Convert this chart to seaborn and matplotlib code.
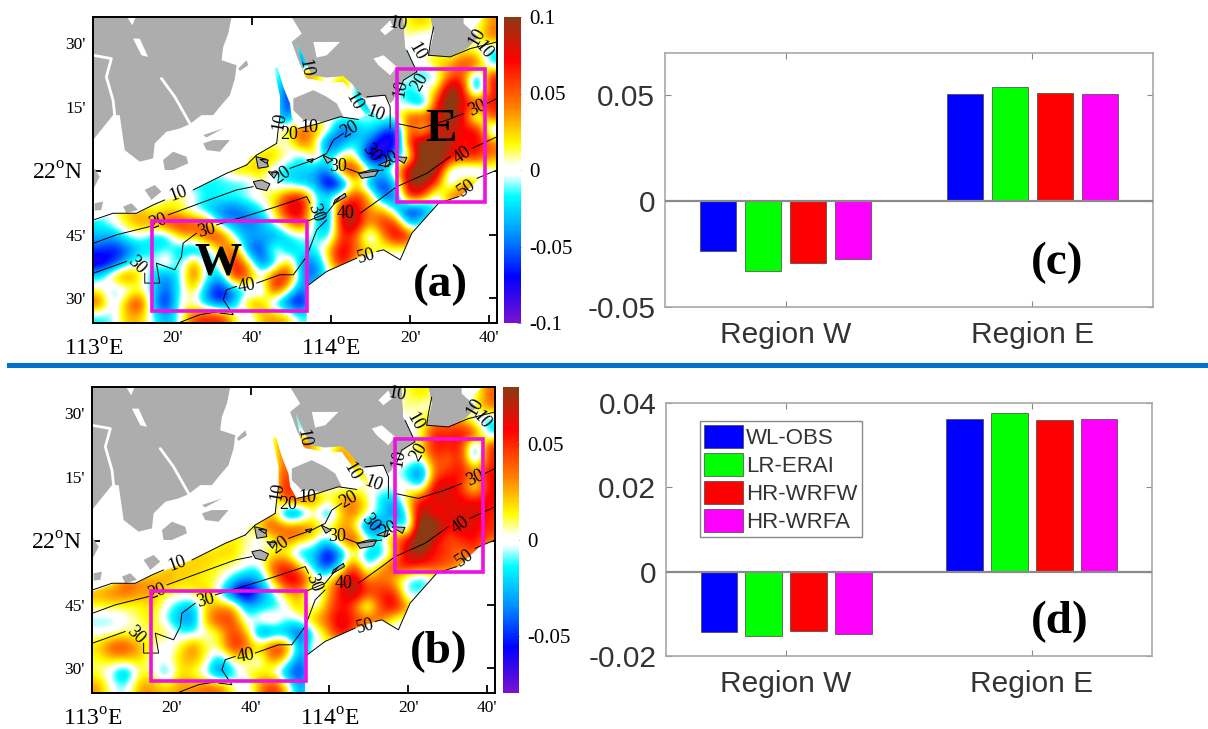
import numpy as np
import pandas as pd
import matplotlib
matplotlib.use("Agg")
import matplotlib.pyplot as plt
import seaborn as sns
from matplotlib.colors import LinearSegmentedColormap, Normalize
from matplotlib.patches import PathPatch, Polygon, Rectangle
from matplotlib.path import Path

# ---------- bar values ----------
REGIONS = ["Region W", "Region E"]
RUNS = ["WL-OBS", "LR-ERAI", "HR-WRFW", "HR-WRFA"]
RUN_COLORS = ["#0000FF", "#00FF00", "#FF0000", "#FF00FF"]
VALUES_C_W = [-0.0236, -0.0329, -0.0293, -0.0272]
VALUES_C_E = [0.0508, 0.0541, 0.0510, 0.0508]
VALUES_D_W = [-0.0143, -0.0152, -0.01415, -0.01487]
VALUES_D_E = [0.0363, 0.03756, 0.0359, 0.03614]

# ---------- map fields, hundredths (30 columns, 23 rows) ----------
FIELD_A = [
 [0,0,0,0,0,0,0,0,0,0,0,0,0,0,0,0,0,0,0,0,0,0,0,2,3,1,0,0,0,4],
 [0,0,0,0,0,0,0,0,0,0,0,0,0,0,0,0,0,0,0,0,0,0,0,1,-1,0,0,0,1,5],
 [0,0,0,0,0,0,0,0,0,0,0,0,0,0,0,-3,0,0,0,0,0,0,0,-1,0,1,0,2,0,-2],
 [0,0,0,0,0,0,0,0,0,0,0,0,0,0,-4,-6,0,0,0,0,0,0,0,0,0,3,3,6,7,-3],
 [0,0,0,0,0,0,0,0,0,0,0,0,0,0,-4,6,5,-2,3,0,0,0,0,0,-3,-1,5,6,-6,8],
 [0,0,0,0,0,0,0,0,0,0,0,0,0,0,-8,0,0,0,6,-4,0,0,0,-3,2,1,12,8,-7,7],
 [0,0,0,0,0,0,0,0,0,0,0,0,0,0,-8,0,0,0,0,0,-6,0,0,-2,-6,7,12,7,8,7],
 [0,0,0,0,0,0,0,0,0,0,0,0,0,0,-7,3,0,0,0,0,0,0,0,6,7,7,11,8,-4,6],
 [0,0,0,0,0,0,0,0,0,0,0,0,0,0,3,5,4,1,-7,-4,-2,-5,-8,7,-1,8,9,7,9,-3],
 [0,0,0,0,0,0,0,0,0,0,0,0,0,1,-1,6,2,-8,-4,-1,-5,-9,-8,7,12,11,9,6,8,5],
 [0,0,0,0,0,0,0,0,0,0,0,0,3,3,1,-3,3,-3,2,1,-10,-8,-3,-1,13,13,8,7,7,4],
 [0,0,0,0,0,0,0,0,0,0,3,3,3,-1,-3,-2,-4,-5,7,8,1,-3,3,10,13,10,-1,-3,-2,0],
 [0,0,0,0,0,0,-1,-2,-2,-2,-2,-2,1,-1,-2,-4,-3,-10,-8,3,-5,-7,-3,10,10,6,-3,5,3,0],
 [0,0,0,0,0,1,2,0,-2,-1,-1,0,1,2,6,8,-1,-2,3,7,4,-6,-5,8,6,-3,6,5,0,0],
 [0,0,3,3,1,2,1,-1,-3,-5,-6,-4,-2,2,9,9,-2,-5,9,9,3,4,-3,-8,-7,0,0,0,0,0],
 [-2,0,2,4,4,7,7,6,5,-3,-4,-5,-4,0,3,7,-2,-5,9,10,3,7,7,-5,0,0,0,0,0,0],
 [-3,-4,-1,0,-3,-3,3,3,6,7,-1,-4,-3,-5,-2,-1,-1,-3,7,5,-3,3,9,8,0,0,0,0,0,0],
 [-6,-7,-6,-3,-2,-1,-3,-5,-2,3,6,-5,-7,2,-4,-1,-2,3,9,5,3,1,0,0,0,0,0,0,0,0],
 [-9,-7,-3,1,-1,2,-3,6,-4,1,8,3,-6,-3,4,-5,-5,1,9,2,0,0,0,0,0,0,0,0,0,0],
 [-2,3,6,2,-3,-5,-1,6,-1,-4,8,6,0,7,8,-4,-6,0,0,0,0,0,0,0,0,0,0,0,0,0],
 [1,-2,-1,1,-2,-6,-1,3,-5,-8,-4,-2,-3,8,1,-6,0,0,0,0,0,0,0,0,0,0,0,0,0,0],
 [6,-2,4,8,-4,-8,1,0,-4,-7,-4,4,4,-3,-7,-9,0,0,0,0,0,0,0,0,0,0,0,0,0,0],
 [-2,-1,3,3,-1,-4,0,6,7,7,2,-2,3,4,3,-2,0,0,0,0,0,0,0,0,0,0,0,0,0,0],
]
FIELD_B = [
 [0,0,0,0,0,0,0,0,0,0,0,0,0,0,0,0,0,0,0,0,0,0,0,1,2,1,0,0,0,4],
 [0,0,0,0,0,0,0,0,0,0,0,0,0,0,0,0,0,0,0,0,0,0,0,1,0,0,0,0,1,4],
 [0,0,0,0,0,0,0,0,0,0,0,0,0,0,0,-2,0,0,0,0,0,0,0,0,1,3,3,3,-1,-2],
 [0,0,0,0,0,0,0,0,0,0,0,0,0,0,6,-2,0,0,0,0,0,0,0,0,0,6,5,6,6,-2],
 [0,0,0,0,0,0,0,0,0,0,0,0,0,0,6,6,4,-2,4,0,0,0,0,0,2,6,5,6,-5,6],
 [0,0,0,0,0,0,0,0,0,0,0,0,0,0,5,0,0,0,3,4,0,0,0,1,-1,5,3,6,-3,5],
 [0,0,0,0,0,0,0,0,0,0,0,0,0,0,6,0,0,0,0,0,3,0,0,-2,-6,4,5,6,4,6],
 [0,0,0,0,0,0,0,0,0,0,0,0,0,0,7,2,0,0,0,0,0,0,0,1,-2,7,7,5,-1,6],
 [0,0,0,0,0,0,0,0,0,0,0,0,0,0,5,5,4,1,3,4,1,-2,-3,2,6,7,6,6,6,6],
 [0,0,0,0,0,0,0,0,0,0,0,0,0,3,-6,-5,1,-4,2,4,1,-1,-5,-1,9,4,7,6,7,5],
 [0,0,0,0,0,0,0,0,0,0,0,0,3,5,4,5,3,1,3,2,-6,-5,1,-4,11,10,5,7,6,5],
 [0,0,0,0,0,0,0,0,0,1,2,1,-1,1,4,2,1,-2,3,6,1,-1,4,6,11,6,4,5,6,4],
 [0,0,0,0,0,0,2,2,2,2,2,0,1,1,1,-3,-2,-7,-4,1,-3,-3,2,7,8,5,5,3,5,0],
 [0,0,0,0,0,2,2,2,2,1,1,0,-1,5,6,2,-2,-6,-1,6,-2,3,5,6,5,5,4,3,0,0],
 [0,0,4,3,3,3,2,2,1,1,-2,-4,-3,2,7,7,1,1,5,8,3,4,2,-1,-3,0,0,0,0,0],
 [3,4,4,3,3,1,1,1,3,-1,-6,-8,-4,-1,2,3,-2,2,6,8,5,5,6,-2,0,0,0,0,0,0],
 [1,1,1,1,2,0,-2,-3,2,3,3,-3,-2,-2,0,3,-1,3,6,4,-2,5,7,3,0,0,0,0,0,0],
 [-1,-1,0,1,2,-1,-3,-4,3,5,5,-1,1,2,-1,0,3,4,7,5,5,4,0,0,0,0,0,0,0,0],
 [0,0,1,0,1,2,-1,-1,0,1,5,3,-5,-4,-3,-6,-1,2,7,4,0,0,0,0,0,0,0,0,0,0],
 [2,5,5,3,1,-1,1,4,1,1,6,4,2,6,5,-4,1,0,0,0,0,0,0,0,0,0,0,0,0,0],
 [1,2,2,2,0,0,2,3,1,-3,1,1,-1,4,1,-5,0,0,0,0,0,0,0,0,0,0,0,0,0,0],
 [1,-1,-4,1,1,-3,2,1,-1,-5,-2,1,2,0,-4,-6,0,0,0,0,0,0,0,0,0,0,0,0,0,0],
 [3,0,-1,3,3,2,3,3,4,4,1,-1,3,6,2,-4,0,0,0,0,0,0,0,0,0,0,0,0,0,0],
]

# ---------- traced geography (trace units, converted to lon/lat below) ----------
SEA_OUTLINE = [(132,665),(200,640),(265,640),(310,615),(345,603),(430,570),(530,520),(590,495),(600,470),
 (640,455),(680,430),(685,385),(690,350),(690,290),(672,205),(682,200),(700,260),(720,310),(725,350),(745,385),
 (800,372),(870,350),(925,358),(965,335),(1000,360),(1025,330),(1040,285),(1050,250),(1100,215),(1065,140),
 (1060,52),(1140,52),(1150,100),(1135,165),(1200,170),(1250,145),(1285,110),(1270,80),(1300,52),(1342,52),
 (1342,510),(1300,525),(1230,590),(1165,610),(1085,700),(1050,780),(1000,750),(920,775),(830,815),(770,860),
 (770,972),(130,972)]
SEA_CHANNEL = [(742,130),(752,180),(765,230),(830,248),(880,245),(905,280),(925,315),(950,348),(962,335),
 (935,290),(905,250),(880,228),(830,232),(785,225),(765,180)]
LAND_WEST = [(130,50),(232,50),(248,75),(258,50),(545,50),(535,100),(520,140),(515,180),(560,195),(555,235),
 (540,285),(510,320),(490,345),(455,345),(420,372),(390,385),(350,395),(315,430),(310,475),(270,485),(225,450),
 (210,345),(190,345),(130,420)]
LAND_EAST = [(725,50),(755,100),(725,125),(745,180),(770,235),(830,240),(880,240),(905,270),(945,295),(1005,285),
 (1020,310),(1030,300),(1050,250),(1100,215),(1065,140),(1060,50)]
LAND_NE = [(1140,50),(1240,50),(1240,70),(1285,110),(1340,125),(1250,145),(1200,170),(1135,165),(1150,100)]
LAND_SMALL = [
 [(730,295),(790,270),(830,290),(860,310),(880,350),(815,365),(760,360),(730,330)],
 [(340,480),(370,455),(410,470),(415,490),(370,510),(345,510)],
 [(285,570),(315,555),(335,575),(305,600)],
 [(460,430),(490,420),(540,420),(510,455),(470,450)],
 [(460,405),(520,385),(470,412)],
 [(565,205),(590,180),(595,195),(570,212)],
 [(135,610),(160,605),(155,630),(135,632)],
 [(220,620),(245,610),(265,630),(230,640)],
 [(130,500),(150,530),(130,570)],
]
LAND_HOLES = [
 [(790,125),(870,125),(830,165),(800,172)],
 [(970,175),(1000,165),(1040,200),(1020,225),(985,195)],
 [(990,90),(1020,60),(1030,85),(1005,105)],
 [(250,115),(270,115),(295,170),(275,165)],
]
WHITE_LINES = [[(130,165),(185,175),(170,230),(190,300),(195,345)],[(335,235),(375,290),(420,370)]]
ISLANDS = [
 [(618,470),(650,478),(655,500),(625,505)],[(610,545),(635,540),(660,552),(650,572),(620,565)],
 [(655,515),(682,518),(672,535)],[(925,520),(960,510),(985,510),(975,528),(935,535)],
 [(985,495),(1020,480),(1015,500)],[(1030,470),(1070,472),(1062,490)],[(818,465),(848,480),(832,490)],
 [(855,600),(885,580),(888,590),(850,612)],[(630,478),(655,480),(650,490)],[(770,480),(790,476),(785,488)],
]
CONTOURS = [
 [(132,660),(190,640),(260,640),(310,615),(345,600)],[(430,570),(530,520),(590,495)],
 [(132,730),(200,705),(300,680)],[(355,645),(450,610),(560,570),(610,560)],
 [(720,505),(790,480),(830,460),(850,420),(880,400)],
 [(132,820),(230,785)],[(285,820),(285,850),(330,850),(320,790),(375,810),(395,770),(400,730),(440,700)],
 [(500,675),(600,645),(680,620),(770,590),(780,610)],[(770,665),(830,640),(870,590)],
 [(890,505),(930,520),(1000,510)],[(1040,370),(1110,385),(1190,360),(1240,340)],[(1310,310),(1340,295)],
 [(560,860),(530,870),(520,900),(540,930),(550,945),(510,940)],[(620,850),(690,825),(730,825),(770,770),(800,690),(830,660)],
 [(930,640),(1000,590),(1040,560),(1130,520),(1200,470)],[(1265,445),(1340,410)],
 [(380,972),(450,945),(510,935)],[(770,860),(830,815),(920,775)],[(980,755),(1000,750),(1050,780),(1085,700),(1165,610),(1225,590)],
 [(1280,535),(1340,510)],
 [(1040,290),(1060,240),(1100,215),(1070,150)],[(1135,165),(1200,170),(1260,145),(1340,125)],
 [(950,290),(1005,285),(1020,320),(1020,385)],[(1150,80),(1140,130),(1135,165)],
 [(680,430),(685,385),(690,350)],[(745,385),(800,372),(870,350),(925,358)],[(590,495),(620,465),(680,430)],
]
DEPTH_LABELS = [("10",385,580,20),("20",325,665,20),("30",470,690,15),("30",262,795,-45),("40",590,858,10),
 ("30",795,640,-70),("40",885,640,0),("50",950,770,15),("50",1250,565,35),("40",1235,465,35),("30",1280,325,25),
 ("20",695,525,35),("30",865,500,0),("20",900,390,30),("30",965,460,-50),("20",1020,480,30),("10",688,365,80),
 ("10",778,383,0),("20",718,403,0),("10",975,340,-20),("10",910,305,-60),("10",1050,265,80),("20",1110,245,60),
 ("10",1045,72,-10),("10",1100,155,-60),("10",1280,110,60),("10",1300,150,-50),("10",765,205,-80)]
BOX_W = (307, 772, 663, 935)
BOX_E = (1040, 1305, 205, 605)

CMAP_STOPS = [(-1,"#7B12CF"),(-.7,"#0000FF"),(-.43,"#0090FF"),(-.17,"#00FFFF"),(-.03,"#FFFFFF"),
              (.03,"#FFFFFF"),(.17,"#FFFF00"),(.41,"#FF8000"),(.72,"#FF0000"),(1,"#8B3A12")]

W, H = 1208, 729
sns.set_theme(style="white", rc={"text.color": "black", "xtick.color": "black", "ytick.color": "black"})
plt.rcParams["font.family"] = ["Liberation Serif", "DejaVu Serif"]
plt.rcParams["mathtext.fontset"] = "custom"
plt.rcParams["mathtext.rm"] = "Liberation Serif"
SANS = "Liberation Sans"

cmap = LinearSegmentedColormap.from_list("bwr2", [((v+1)/2, c) for v, c in CMAP_STOPS])

def lon(t): return 113 + (np.asarray(t, float) - 132) / 711
def lat(t): return 22 + (512 - np.asarray(t, float)) / 768
def pts(seq):
    a = np.array(seq, float)
    return np.column_stack([lon(a[:, 0]), lat(a[:, 1])])

fig = plt.figure(figsize=(W/100, H/100), dpi=100, facecolor="white")
def px_axes(l, t, r, b):
    return fig.add_axes([l/W, 1-b/H, (r-l)/W, (b-t)/H])

def draw_map(box, cbox, field, vmax, cticks, clabels, letter, letter_xy, names):
    ax = px_axes(*box)
    ax.set_facecolor("white")
    gray = "#ADADAD"
    for poly in [LAND_WEST, LAND_EAST, LAND_NE] + LAND_SMALL:
        ax.add_patch(Polygon(pts(poly), closed=True, fc=gray, ec="none", zorder=1))
    for poly in LAND_HOLES:
        ax.add_patch(Polygon(pts(poly), closed=True, fc="white", ec="none", zorder=1.1))
    for line in WHITE_LINES:
        p = pts(line); ax.plot(p[:, 0], p[:, 1], color="white", lw=2, zorder=1.1)
    norm = Normalize(-vmax, vmax)
    im = ax.imshow(np.array(field, float)/100, cmap=cmap, norm=norm, aspect="auto", interpolation="bicubic",
                   origin="upper", extent=(lon(130), lon(1340), lat(970), lat(50)), zorder=2)
    verts = np.vstack([pts(SEA_OUTLINE), pts(SEA_OUTLINE)[:1], pts(SEA_CHANNEL), pts(SEA_CHANNEL)[:1]])
    n1, n2 = len(SEA_OUTLINE), len(SEA_CHANNEL)
    codes = [Path.MOVETO]+[Path.LINETO]*(n1-1)+[Path.CLOSEPOLY]+[Path.MOVETO]+[Path.LINETO]*(n2-1)+[Path.CLOSEPOLY]
    clip = PathPatch(Path(verts, codes), transform=ax.transData, fc="none", ec="none")
    ax.add_patch(clip)
    im.set_clip_path(clip)
    for poly in ISLANDS:
        ax.add_patch(Polygon(pts(poly), closed=True, fc=gray, ec="black", lw=0.7, zorder=3))
    for line in CONTOURS:
        p = pts(line); ax.plot(p[:, 0], p[:, 1], color="black", lw=0.7, zorder=3)
    for s, x, y, r in DEPTH_LABELS:
        ax.text(lon(x), lat(y), s, fontsize=13, rotation=r, ha="center", va="center", zorder=4)
    for (x0, x1, y0, y1) in (BOX_W, BOX_E):
        ax.add_patch(Rectangle((lon(x0), lat(y1)), lon(x1)-lon(x0), lat(y0)-lat(y1), fc="none",
                               ec="#F010E0", lw=2.6, zorder=5))
    for s, x, y in names:
        ax.text(lon(x), lat(y), s, fontsize=34, fontweight="bold", ha="center", va="center", zorder=6)
    ax.text(lon(letter_xy[0]), lat(letter_xy[1]), letter, fontsize=34, fontweight="bold",
            ha="center", va="center", zorder=6)
    ax.set_xlim(lon(130), lon(1340)); ax.set_ylim(lat(970), lat(50))
    ax.set_xticks([113, 113+1/3, 113+2/3, 114, 114+1/3, 114+2/3])
    ax.set_xticklabels(["113$^{\\mathrm{o}}$E", "20'", "40'", "114$^{\\mathrm{o}}$E", "20'", "40'"], fontsize=12.5)
    ax.set_yticks([21.5, 21.75, 22, 22.25, 22.5])
    ax.set_yticklabels(["30'", "45'", "22$^{\\mathrm{o}}$N", "15'", "30'"], fontsize=12.5)
    ax.tick_params(direction="in", top=True, right=True, bottom=True, left=True, length=6, width=1.3, color="black", pad=5)
    for i in (0, 3):
        t = ax.xaxis.get_major_ticks()[i]; t.set_pad(11); t.label1.set_fontsize(17)
    t = ax.yaxis.get_major_ticks()[2]; t.set_pad(7); t.label1.set_fontsize(17)
    for s in ax.spines.values():
        s.set_visible(True); s.set_linewidth(1.4); s.set_color("black")
    cax = px_axes(*cbox)
    cb = fig.colorbar(im, cax=cax)
    cb.set_ticks(cticks); cb.set_ticklabels(clabels)
    cb.ax.tick_params(direction="in", length=3, width=0.6, color="#777777", labelsize=15, pad=6, right=True)
    cb.outline.set_visible(False)
    return ax

draw_map((93, 17, 497, 323), (504, 17, 521, 323), FIELD_A, 10/100, [-.1,-.05,0,.05,.1],
         ["-0.1","-0.05","0","0.05","0.1"], "(a)", (1170,855), [("W",505,790),("E",1172,390)])
draw_map((92, 387, 495, 693), (503, 387, 519, 693), FIELD_B, 8/100, [-.05,0,.05],
         ["-0.05","0","0.05"], "(b)", (1170,845), [])

def draw_bars(box, wvals, evals, ylim, yticks, ylabels, letter, letter_xy, legend=False):
    ax = px_axes(*box)
    df = pd.DataFrame({"region": [REGIONS[0]]*4 + [REGIONS[1]]*4, "run": RUNS*2, "value": wvals + evals})
    sns.barplot(data=df, x="region", y="value", hue="run", hue_order=RUNS, palette=RUN_COLORS, order=REGIONS,
                width=0.73, gap=0.19, saturation=1, errorbar=None, ax=ax, legend=legend,
                edgecolor="#444444", linewidth=0.5, zorder=2)
    ax.set_xlim(-0.488, 1.488); ax.set_ylim(*ylim)
    ax.set_xlabel(""); ax.set_ylabel("")
    ax.set_yticks(yticks); ax.set_yticklabels(ylabels, family=SANS, fontsize=21.5, color="#333333")
    for l in ax.get_xticklabels():
        l.set_family(SANS); l.set_fontsize(21.5); l.set_color("#333333")
    ax.tick_params(direction="in", top=True, right=True, bottom=True, left=True, length=4, width=0.8, color="#888888", pad=7)
    ax.tick_params(axis="x", pad=10)
    ax.axhline(0, color="#8A8A8A", lw=1.6, zorder=3)
    for s in ax.spines.values():
        s.set_visible(True); s.set_color("#A8A8A8"); s.set_linewidth(1.2)
    ax.text(letter_xy[0], letter_xy[1], letter, transform=fig.transFigure, fontsize=34, fontweight="bold",
            ha="center", va="center", zorder=6)
    if legend:
        h, l = ax.get_legend_handles_labels()
        leg = ax.legend(h, l, loc="upper left", bbox_to_anchor=((700-box[0])/(box[2]-box[0]), 1-(421-box[1])/(box[3]-box[1])),
                        borderaxespad=0, fancybox=False, framealpha=1, edgecolor="#888888",
                        prop={"family": SANS, "size": 16}, handlelength=1.72, handleheight=1.15,
                        labelspacing=0.2, handletextpad=0.15, borderpad=0.2)
        for t in leg.get_texts():
            t.set_color("#333333")
    return ax

draw_bars((665, 53, 1153, 307), VALUES_C_W, VALUES_C_E, (-0.05, 0.07), [-.05, 0, .05], ["-0.05", "0", "0.05"],
          "(c)", (1057/W, 1-263/H))
draw_bars((666, 403, 1152, 656), VALUES_D_W, VALUES_D_E, (-0.02, 0.04), [-.02, 0, .02, .04], ["-0.02", "0", "0.02", "0.04"],
          "(d)", (1060/W, 1-622/H), legend=True)

fig.add_artist(Rectangle((7/W, 1-368/H), (W-7)/W, 5/H, transform=fig.transFigure, fc="#0072CE", ec="none"))
fig.savefig("out.png", dpi=100, facecolor="white")
